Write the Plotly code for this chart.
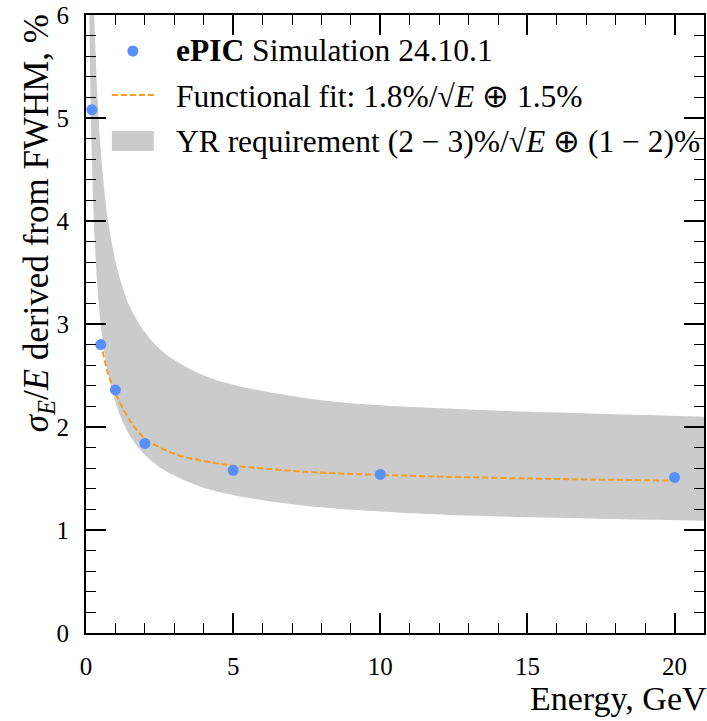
import plotly.graph_objects as go

# ---- data ----
energy_sim = [0.2, 0.5, 1, 2, 5, 10, 20]
res_sim = [5.08, 2.80, 2.36, 1.84, 1.58, 1.54, 1.51]

energy_fit = [0.5, 0.75, 1, 1.5, 2, 3, 4, 5, 7.5, 10, 15, 20]
res_fit = [2.82, 2.52, 2.33, 2.06, 1.89, 1.74, 1.67, 1.625, 1.565, 1.535, 1.50, 1.48]

energy_band = [0.1, 0.12, 0.15, 0.2, 0.25, 0.3, 0.4, 0.5, 0.6, 0.75, 1, 1.25, 1.5,
               2, 2.5, 3, 4, 5, 6, 8, 10, 13, 16, 21]
band_low = [6.40, 5.86, 5.26, 4.58, 4.12, 3.79, 3.32, 3.00, 2.77, 2.52, 2.24, 2.05, 1.91,
            1.73, 1.61, 1.53, 1.41, 1.34, 1.29, 1.22, 1.18, 1.14, 1.12, 1.09]
band_high = [9.70, 8.89, 8.00, 7.00, 6.32, 5.83, 5.15, 4.69, 4.36, 4.00, 3.61, 3.35, 3.16,
             2.92, 2.76, 2.65, 2.50, 2.41, 2.35, 2.26, 2.21, 2.17, 2.14, 2.10]

legend_labels = [
    "<b>ePIC</b> Simulation 24.10.1",
    "Functional fit: 1.8%/√<i>E</i> ⊕ 1.5%",
    "YR requirement (2 − 3)%/√<i>E</i> ⊕ (1 − 2)%",
]

BLUE = "#5790fc"
ORANGE = "#f89c20"
GREY = "#cbcbcb"
FONT = "Liberation Serif"

W, H = 707, 721
ML, MR, MT, MB = 86, 1, 15, 88
PW, PH = W - ML - MR, H - MT - MB


def px(x):
    return (x - ML) / PW


def py(y):
    return (H - MB - y) / PH


fig = go.Figure()
fig.add_trace(go.Scatter(x=energy_band, y=band_low, mode="lines",
                         line=dict(width=0, color=GREY, shape="spline"), showlegend=False,
                         hoverinfo="skip"))
fig.add_trace(go.Scatter(x=energy_band, y=band_high, mode="lines",
                         line=dict(width=0, color=GREY, shape="spline"), fill="tonexty",
                         fillcolor=GREY, showlegend=False, hoverinfo="skip"))
fig.add_trace(go.Scatter(x=energy_fit, y=res_fit, mode="lines",
                         line=dict(color=ORANGE, width=2, dash="6px,3px", shape="spline"),
                         showlegend=False))
fig.add_trace(go.Scatter(x=energy_sim, y=res_sim, mode="markers",
                         marker=dict(color=BLUE, size=11), showlegend=False))

axis_common = dict(
    showline=True, linecolor="black", linewidth=1.8, mirror="allticks",
    ticks="inside", ticklen=20, tickwidth=1.5, tickcolor="black",
    showgrid=False, zeroline=False,
    tickfont=dict(family=FONT, size=25, color="black"),
)
fig.update_xaxes(range=[0, 21], tickmode="array", tickvals=[0, 5, 10, 15, 20],
                 minor=dict(ticks="inside", ticklen=10, dtick=1, tickwidth=1.3,
                            tickcolor="black", showgrid=False),
                 ticklabelstandoff=10, **axis_common)
fig.update_yaxes(range=[0, 6], tickmode="array", tickvals=[0, 1, 2, 3, 4, 5, 6],
                 minor=dict(ticks="inside", ticklen=10, dtick=0.2, tickwidth=1.3,
                            tickcolor="black", showgrid=False),
                 ticklabelstandoff=10, **axis_common)

annotations = [
    dict(text="Energy, GeV", xref="paper", yref="paper", x=px(711), y=py(698),
         xanchor="right", yanchor="middle", showarrow=False,
         font=dict(family=FONT, size=34, color="black")),
    dict(text="<i>σ</i><sub><i>E</i></sub>/<i>E</i> derived from FWHM, %",
         xref="paper", yref="paper", x=px(38), y=py(12), textangle=-90,
         xanchor="center", yanchor="top", showarrow=False,
         font=dict(family=FONT, size=35, color="black")),
]
row_y = [50, 96, 142]
for lab, yy in zip(legend_labels, row_y):
    annotations.append(dict(text=lab, xref="paper", yref="paper", x=px(174), y=py(yy),
                            xanchor="left", yanchor="middle", showarrow=False,
                            font=dict(family=FONT, size=31.5, color="black")))

shapes = [
    dict(type="circle", xref="paper", yref="paper",
         x0=px(127.5), x1=px(138.5), y0=py(45.5), y1=py(56.5),
         fillcolor=BLUE, line=dict(width=0)),
    dict(type="line", xref="paper", yref="paper",
         x0=px(112), x1=px(154), y0=py(95), y1=py(95),
         line=dict(color=ORANGE, width=2, dash="6px,3px")),
    dict(type="rect", xref="paper", yref="paper",
         x0=px(112), x1=px(154), y0=py(131), y1=py(151),
         fillcolor=GREY, line=dict(width=0)),
]

fig.update_layout(
    width=W, height=H, margin=dict(l=ML, r=MR, t=MT, b=MB),
    paper_bgcolor="white", plot_bgcolor="white",
    annotations=annotations, shapes=shapes, showlegend=False,
)

fig.write_html("out.html", config={"displayModeBar": False},
               post_script="document.body.style.margin='0';document.body.style.overflow='hidden';")
